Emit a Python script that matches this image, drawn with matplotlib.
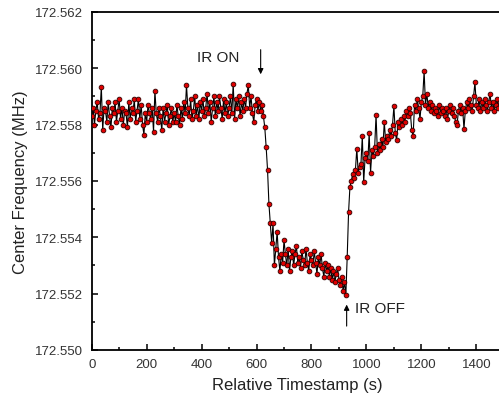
import matplotlib
matplotlib.use("Agg")
import matplotlib.pyplot as plt
import numpy as np
from matplotlib.ticker import MultipleLocator, FormatStrFormatter

plt.rcParams['font.family'] = ['Liberation Sans', 'DejaVu Sans']

# offsets from 172.550 MHz in kHz, one point every 5 s
baseline_khz = [
    8.3, 8.6, 8.0, 8.5, 8.8, 8.2, 8.4, 9.35, 7.8, 8.6,
    8.5, 8.1, 8.8, 8.3, 7.9, 8.6, 8.4, 8.8, 8.1, 8.5,
    8.9, 8.2, 8.6, 8.0, 8.5, 8.4, 7.9, 8.8, 8.2, 8.6,
    8.4, 8.9, 8.1, 8.5, 8.9, 8.2, 8.7, 8.0, 7.65, 8.4,
    8.1, 8.7, 8.4, 8.2, 8.6, 7.75, 9.2, 8.4, 8.1, 8.6,
    8.3, 7.8, 8.6, 8.1, 8.4, 8.7, 8.0, 8.3, 8.6, 8.1,
    8.4, 8.1, 8.7, 8.3, 8.0, 8.6, 8.2, 8.8, 8.4, 9.4,
    8.6, 8.3, 8.9, 8.2, 8.5, 9.0, 8.3, 8.7, 8.2, 8.8,
    8.5, 8.9, 8.3, 8.6, 9.1, 8.4, 8.8, 8.1, 8.6, 9.0,
    8.3, 8.8, 8.5, 9.0, 8.6, 8.2, 8.9, 8.4, 8.8, 8.3,
    8.6, 9.0, 8.4, 9.45, 8.2, 8.9, 8.6, 9.0, 8.3, 8.8,
    8.5, 8.9, 8.6, 9.1, 9.4, 8.6, 9.0, 8.4, 8.1, 8.7,
    8.9, 8.5, 8.8, 8.5, 8.7, 8.3,
]
drop_khz = [7.9, 7.2, 6.4, 5.2, 4.5]
plateau_khz = [
    3.8, 4.5, 3.0, 3.6, 4.2, 3.3, 2.8, 3.4, 3.1, 3.9,
    3.4, 3.0, 3.6, 2.8, 3.3, 3.5, 3.0, 3.4, 3.7, 3.1,
    3.3, 2.9, 3.5, 3.2, 3.0, 3.6, 3.1, 2.8, 3.4, 3.2,
    3.0, 3.5, 3.1, 2.7, 3.3, 3.0, 3.4, 2.9, 2.6, 3.1,
    2.8, 3.0, 2.6, 2.9, 2.5, 2.8, 2.4, 2.7, 2.9, 2.5,
    2.3, 2.6, 2.1, 2.4, 1.95,
]
recovery_khz = [
    3.3, 4.9, 5.8, 6.0, 6.25, 6.1, 6.4, 7.15, 6.3, 6.5,
    6.6, 7.6, 5.95, 6.8, 7.0, 6.7, 7.7, 6.3, 7.1, 6.9,
    7.2, 8.35, 7.0, 7.3, 7.1, 7.5, 7.2, 8.1, 7.4, 7.6,
    7.5, 7.8, 7.6, 8.0, 8.65, 7.7, 7.45, 8.1, 7.9, 8.2,
    8.0, 8.3, 8.1, 8.5, 8.3, 8.6, 8.4, 7.8, 7.6, 8.7,
    8.5, 8.9, 8.6, 8.2, 8.8, 9.0, 9.9, 8.7, 9.1, 8.6,
    8.8, 8.5, 8.7, 8.4, 8.6, 8.5, 8.3, 8.7, 8.4, 8.6,
    8.5, 8.3, 8.6, 8.2, 8.5, 8.7, 8.4, 8.6, 8.3, 8.1,
    8.0, 8.5, 8.7, 8.4, 8.6, 7.85, 8.5, 8.8, 8.6, 8.9,
    8.7, 8.5, 9.0, 9.5, 8.7, 8.6, 8.9, 8.5, 8.8, 8.6,
    8.9, 8.7, 8.5, 8.8, 9.1, 8.6, 8.8, 8.5, 8.7, 8.9,
    8.6, 8.8, 8.7, 8.9,
]

base_mhz = 172.550
step_s = 5


def main():
    khz = np.array(baseline_khz + drop_khz + plateau_khz + recovery_khz)
    t = step_s * np.arange(len(khz))
    freq = base_mhz + khz / 1000.0

    fig = plt.figure(figsize=(4.99, 4.02), dpi=100)
    ax = fig.add_axes([0.1838, 0.1269, 0.8258, 0.8408])

    ax.plot(t, freq, color='black', lw=0.8, zorder=2)
    ax.plot(t, freq, ls='none', marker='o', ms=3.4, mfc='#e00000',
            mec='#300000', mew=0.6, zorder=3)

    ax.set_xlim(0, 1500)
    ax.set_ylim(172.550, 172.562)
    ax.xaxis.set_major_locator(MultipleLocator(200))
    ax.xaxis.set_minor_locator(MultipleLocator(100))
    ax.yaxis.set_major_locator(MultipleLocator(0.002))
    ax.yaxis.set_minor_locator(MultipleLocator(0.001))
    ax.yaxis.set_major_formatter(FormatStrFormatter('%.3f'))
    ax.tick_params(which='both', direction='in', top=False, right=False,
                   width=1.1, labelsize=9.5, labelcolor='#333333')
    ax.tick_params(which='major', length=4, pad=6)
    ax.tick_params(which='minor', length=2.5)
    for s in ax.spines.values():
        s.set_linewidth(1.3)

    ax.set_xlabel('Relative Timestamp (s)', fontsize=12, color='#222222',
                  labelpad=5)
    ax.set_ylabel('Center Frequency (MHz)', fontsize=12, color='#222222',
                  labelpad=5)

    # IR ON marker
    ax.annotate('', xy=(615, 172.55969), xytext=(615, 172.56076),
                arrowprops=dict(arrowstyle='-|>', color='black', lw=0.8,
                                mutation_scale=8))
    ax.text(385, 172.5604, 'IR ON', fontsize=11, va='center', ha='left',
            color='#222222')

    # IR OFF marker
    ax.annotate('', xy=(928, 172.55171), xytext=(928, 172.55075),
                arrowprops=dict(arrowstyle='-|>', color='black', lw=0.8,
                                mutation_scale=8))
    ax.text(958, 172.5515, 'IR OFF', fontsize=11, va='center', ha='left',
            color='#222222')

    fig.savefig('out.png', dpi=100)


if __name__ == "__main__":
    main()
